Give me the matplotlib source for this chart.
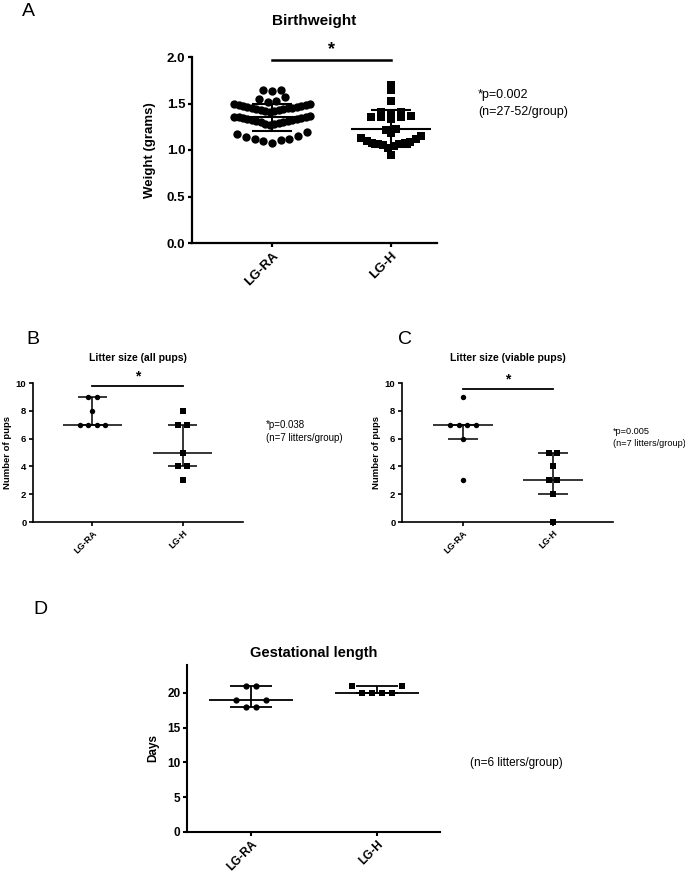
import numpy as np
import matplotlib
matplotlib.use('Agg')
import matplotlib.pyplot as plt

plt.rcParams['font.family'] = ['Liberation Sans', 'DejaVu Sans']

# ---------------- data ----------------
groups = ['LG-RA', 'LG-H']

# Panel A: birthweight (grams), individual pups
bw_lgra = [1.08, 1.10, 1.11, 1.12, 1.12, 1.14, 1.15, 1.17, 1.19,
           1.27, 1.28, 1.28, 1.29, 1.30, 1.30, 1.31, 1.31, 1.32,
           1.32, 1.33, 1.33, 1.34, 1.34, 1.35, 1.35, 1.36, 1.37,
           1.41, 1.42, 1.42, 1.43, 1.43, 1.44, 1.44, 1.45, 1.45,
           1.45, 1.46, 1.46, 1.47, 1.47, 1.48, 1.48, 1.49, 1.49,
           1.52, 1.53, 1.55, 1.57, 1.63, 1.64, 1.65]
bw_lgh = [0.95, 1.02, 1.04, 1.05, 1.06, 1.06, 1.07, 1.08, 1.09, 1.10,
          1.12, 1.13, 1.15, 1.18, 1.22, 1.23, 1.33, 1.35, 1.35, 1.36,
          1.37, 1.40, 1.41, 1.41, 1.53, 1.64, 1.70]
bw_mean = [1.35, 1.23]
bw_sd = [0.15, 0.20]

# Panel B: litter size (all pups)
la_lgra = [9, 9, 8, 7, 7, 7, 7]
la_lgh = [8, 7, 7, 5, 4, 4, 3]
la_median = [7, 5]
la_q1 = [7, 4]
la_q3 = [9, 7]

# Panel C: litter size (viable pups)
lv_lgra = [9, 7, 7, 7, 7, 6, 3]
lv_lgh = [5, 5, 4, 3, 3, 2, 0]
lv_median = [7, 3]
lv_q1 = [6, 2]
lv_q3 = [7, 5]

# Panel D: gestational length (days)
gl_lgra = [21, 21, 19, 19, 18, 18]
gl_lgh = [21, 21, 20, 20, 20, 20]
gl_median = [19, 20]
gl_q1 = [18, 20]
gl_q3 = [21, 21]

# ---------------- helpers ----------------
W, H = 685, 876
fig = plt.figure(figsize=(W / 100, H / 100), dpi=100)


def px_rect(l, t, r, b):
    return [l / W, 1 - b / H, (r - l) / W, (b - t) / H]


def ftext(x, y, s, **kw):
    fig.text(x / W, 1 - y / H, s, **kw)


def px_per_unit(ax):
    (x0, y0), (x1, y1) = ax.transData.transform([(0, 0), (1, 1)])
    return x1 - x0, y1 - y0


def slot_offsets(n):
    if n % 2:
        base = [0] + [s * k for k in range(1, n) for s in (-1, 1)]
    else:
        base = [s * (k - 0.5) for k in range(1, n + 1) for s in (-1, 1)]
    return base[:n]


def swarm_continuous(ax, x0, values, spacing_px, max_half_px, gap, span):
    ppx, _ = px_per_unit(ax)
    v = np.asarray(values, float)
    order = np.argsort(v, kind='stable')
    rows, cur = [], [order[0]]
    for i in order[1:]:
        if v[i] - v[cur[-1]] > gap or v[i] - v[cur[0]] > span:
            rows.append(cur)
            cur = [i]
        else:
            cur.append(i)
    rows.append(cur)
    xs = np.full(len(v), float(x0))
    for row in rows:
        n = len(row)
        sp = spacing_px if n == 1 else min(spacing_px, 2 * max_half_px / (n - 1))
        for i, s in zip(row, slot_offsets(n)):
            xs[i] = x0 + s * sp / ppx
    return xs, v


def swarm_rows(ax, x0, values, spacing_px, near_px):
    ppx, ppy = px_per_unit(ax)
    v = np.asarray(values, float)
    xs = np.full(len(v), float(x0))
    placed = []
    for u in sorted(set(v)):
        idx = np.where(v == u)[0]
        n = len(idx)
        near = [ext for (yv, ext) in placed if abs(yv - u) * ppy < near_px]
        if near:
            start = max(near)
            offs, k = [], 1
            while len(offs) < n:
                offs.append(-(start + k * spacing_px))
                if len(offs) < n:
                    offs.append(start + k * spacing_px)
                k += 1
        else:
            offs = [(k - (n - 1) / 2) * spacing_px for k in range(n)]
        for i, o in zip(idx, offs):
            xs[i] = x0 + o / ppx
        placed.append((u, max(abs(o) for o in offs)))
    return xs, v


def draw_stats(ax, x0, center, lo, hi, half_main, half_cap, lw):
    ax.hlines(center, x0 - half_main, x0 + half_main, color='k', lw=lw, zorder=2)
    ax.hlines([lo, hi], x0 - half_cap, x0 + half_cap, color='k', lw=lw, zorder=2)
    ax.vlines(x0, lo, hi, color='k', lw=lw, zorder=2)


def style(ax, lw, fs, yticks, ylabels, xfs):
    for s in ['top', 'right']:
        ax.spines[s].set_visible(False)
    for s in ['left', 'bottom']:
        ax.spines[s].set_linewidth(lw)
    ax.tick_params(direction='out', length=3.2, width=lw, pad=1.5)
    ax.set_yticks(yticks, labels=ylabels, fontweight='bold', fontsize=fs)
    ax.set_xticks([0, 1], labels=groups, fontweight='bold', fontsize=xfs,
                  rotation=45, ha='right', rotation_mode='anchor')


# ---------------- Panel A ----------------
axA = fig.add_axes(px_rect(192, 57, 437, 243))
axA.set_xlim(-0.672, 1.385)
axA.set_ylim(0, 2.0)
style(axA, 1.6, 9.5, [0, 0.5, 1.0, 1.5, 2.0], ['0.0', '0.5', '1.0', '1.5', '2.0'], 9.5)
axA.set_ylabel('Weight (grams)', fontweight='bold', fontsize=9.5, labelpad=8)
xa, va = swarm_continuous(axA, 0, bw_lgra, 8.7, 38, 0.025, 0.14)
axA.plot(xa, va, 'o', color='k', ms=6.0, mew=0, zorder=3)
xh, vh = swarm_continuous(axA, 1, bw_lgh, 10.0, 30, 0.025, 0.14)
axA.plot(xh, vh, 's', color='k', ms=5.6, mew=0, zorder=3)
for i in range(2):
    draw_stats(axA, i, bw_mean[i], bw_mean[i] - bw_sd[i], bw_mean[i] + bw_sd[i],
               0.336, 0.168, 1.5)
axA.plot([0, 1], [1.968, 1.968], color='k', lw=1.8, clip_on=False)
axA.text(0.5, 1.99, '*', ha='center', va='bottom', fontsize=13, fontweight='bold')
axA.set_title('Birthweight', fontweight='bold', fontsize=11, pad=23)

ftext(28, 12, 'A', fontsize=14, ha='center', va='center')
ftext(478, 95, '*p=0.002', fontsize=9, ha='left', va='center')
ftext(478, 112, '(n=27-52/group)', fontsize=9, ha='left', va='center')

# ---------------- Panels B & C ----------------
def litter_panel(rect, xlim, d_ra, d_h, med, q1, q3, title, bar_y):
    ax = fig.add_axes(rect)
    ax.set_xlim(*xlim)
    ax.set_ylim(0, 10)
    style(ax, 1.2, 6.8, [0, 2, 4, 6, 8, 10], ['0', '2', '4', '6', '8', '10'], 6.5)
    ax.set_ylabel('Number of pups', fontweight='bold', fontsize=6.8, labelpad=3)
    x1, v1 = swarm_rows(ax, 0, d_ra, 8.4, 7.5)
    ax.plot(x1, v1, 'o', color='k', ms=3.9, mew=0, zorder=3, clip_on=False)
    x2, v2 = swarm_rows(ax, 1, d_h, 8.8, 7.5)
    ax.plot(x2, v2, 's', color='k', ms=3.7, mew=0, zorder=3, clip_on=False)
    for i in range(2):
        draw_stats(ax, i, med[i], q1[i], q3[i], 0.33, 0.165, 1.1)
    ax.plot([0, 1], [bar_y, bar_y], color='k', lw=1.3, clip_on=False)
    ax.text(0.5, bar_y + 0.15, '*', ha='center', va='bottom', fontsize=10,
            fontweight='bold')
    ax.set_title(title, fontweight='bold', fontsize=7.5, pad=16)
    return ax


axB = litter_panel(px_rect(33, 383, 243, 522), (-0.661, 1.672), la_lgra, la_lgh,
                   la_median, la_q1, la_q3, 'Litter size (all pups)', 9.8)
axC = litter_panel(px_rect(402, 383, 613, 522), (-0.678, 1.667), lv_lgra, lv_lgh,
                   lv_median, lv_q1, lv_q3, 'Litter size (viable pups)', 9.6)

ftext(33, 340, 'B', fontsize=14, ha='center', va='center')
ftext(405, 340, 'C', fontsize=14, ha='center', va='center')
ftext(266, 425, '*p=0.038', fontsize=7, ha='left', va='center')
ftext(266, 438, '(n=7 litters/group)', fontsize=7, ha='left', va='center')
ftext(613, 432, '*p=0.005', fontsize=6.6, ha='left', va='center')
ftext(613, 444, '(n=7 litters/group)', fontsize=6.6, ha='left', va='center')

# ---------------- Panel D ----------------
axD = fig.add_axes(px_rect(187, 665, 440, 832))
axD.set_xlim(-0.508, 1.5)
axD.set_ylim(0, 24)
style(axD, 1.5, 8.5, [0, 5, 10, 15, 20], ['0', '5', '10', '15', '20'], 8.5)
axD.set_ylabel('Days', fontweight='bold', fontsize=8.5, labelpad=6)
xd1, vd1 = swarm_rows(axD, 0, gl_lgra, 10, 7.8)
axD.plot(xd1, vd1, 'o', color='k', ms=4.5, mew=0, zorder=3)
xd2, vd2 = swarm_rows(axD, 1, gl_lgh, 10, 7.8)
axD.plot(xd2, vd2, 's', color='k', ms=4.4, mew=0, zorder=3)
for i in range(2):
    draw_stats(axD, i, gl_median[i], gl_q1[i], gl_q3[i], 0.333, 0.167, 1.3)
axD.set_title('Gestational length', fontweight='bold', fontsize=10.5, pad=6)

ftext(40, 610, 'D', fontsize=14, ha='center', va='center')
ftext(470, 763, '(n=6 litters/group)', fontsize=8.5, ha='left', va='center')

fig.savefig('out.png', dpi=100)
